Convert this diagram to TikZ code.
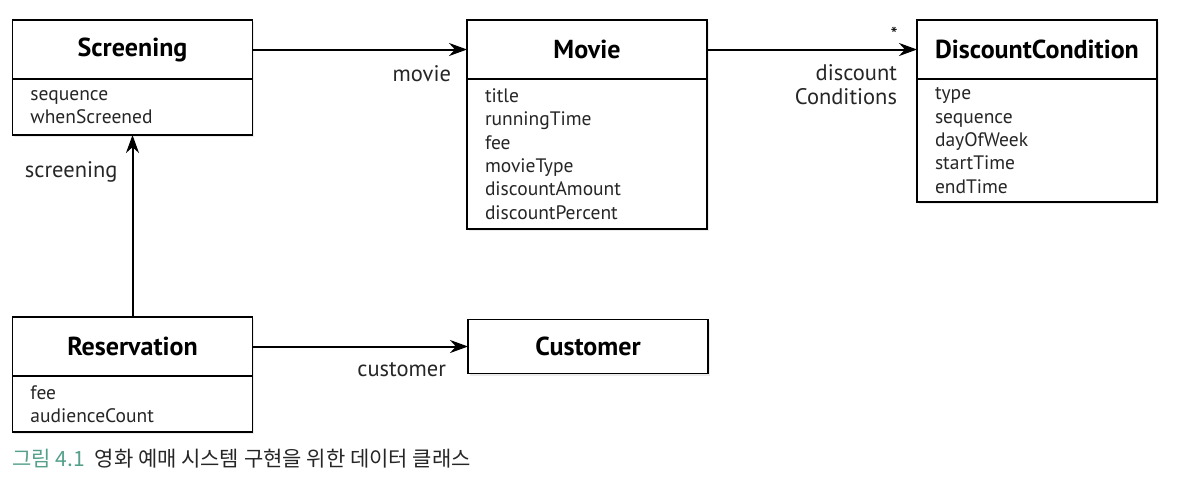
\documentclass[tikz,border=0pt]{standalone}
\usepackage{fontspec}
\setmainfont{PT Sans}
\newfontfamily\krfont{Noto Sans CJK KR}
\usetikzlibrary{arrows.meta,positioning,shadows}

\definecolor{capteal}{RGB}{84,160,138}
\definecolor{inkgray}{RGB}{38,38,38}

\tikzset{
  classhead/.style={draw, line width=1.8pt, fill=white, text=black,
    minimum width=240pt, minimum height=59pt, inner sep=0pt, outer sep=0pt,
    font=\fontsize{26}{30}\selectfont\bfseries,
    drop shadow={shadow xshift=1.5pt, shadow yshift=-2pt, opacity=0.15}},
  classattr/.style={draw, line width=1.8pt, fill=white, text=inkgray,
    text width=204pt, inner xsep=18pt, inner ysep=0pt, outer sep=0pt, align=left,
    font=\fontsize{19.5}{23.3}\selectfont,
    drop shadow={shadow xshift=1.5pt, shadow yshift=-2pt, opacity=0.15}},
  assoc/.style={-{Stealth[length=18pt, width=13pt]}, line width=2pt},
  rolename/.style={font=\fontsize{22.5}{24}\selectfont, text=inkgray, inner sep=0pt},
}

\begin{document}
\begin{tikzpicture}[x=1pt, y=-1pt]
  \useasboundingbox (0,0) rectangle (1191,491);
  % Classes
  \node[classhead] (scr) at (132.5,49.5) {Screening};
  \node[classattr, minimum height=56pt, below=0pt of scr] (scrattr) {sequence\\whenScreened};
  \node[classhead] (mov) at (587,49.5) {Movie};
  \node[classattr, minimum height=150pt, below=0pt of mov] (movattr)
    {title\\runningTime\\fee\\movieType\\discountAmount\\discountPercent};
  \node[classhead] (dc) at (1037,49.5) {DiscountCondition};
  \node[classattr, minimum height=123pt, below=0pt of dc] (dcattr)
    {type\\sequence\\dayOfWeek\\startTime\\endTime};
  \node[classhead] (res) at (132.5,346.5) {Reservation};
  \node[classattr, minimum height=56pt, below=0pt of res] (resattr) {fee\\audienceCount};
  \node[classhead, minimum height=54pt] (cus) at (588,346.5) {Customer};
  % Associations
  \draw[assoc] (scr) -- (mov)
    node[rolename, pos=1, anchor=base east, xshift=-15pt, yshift=-32pt] {movie};
  \draw[assoc] (mov) -- (dc)
    node[rolename, pos=1, anchor=north east, align=right, xshift=-19pt, yshift=-14pt]
      {discount\\Conditions}
    node[pos=1, font=\fontsize{20}{20}\selectfont, xshift=-23pt, yshift=15pt] {*};
  \draw[assoc] (res) -- (scrattr)
    node[rolename, pos=1, anchor=base east, xshift=-14pt, yshift=-42pt] {screening};
  \draw[assoc] (res) -- (cus)
    node[rolename, pos=1, anchor=base east, xshift=-21pt, yshift=-30pt] {customer};
  % Caption
  \node[anchor=west, inner sep=0pt, font=\krfont\fontsize{21}{23}\selectfont, text=inkgray] (cap) at (12,459)
    {\textcolor{capteal}{그림 4.1}\hspace{10pt}영화 예매 시스템 구현을 위한 데이터 클래스};
\end{tikzpicture}
\end{document}
